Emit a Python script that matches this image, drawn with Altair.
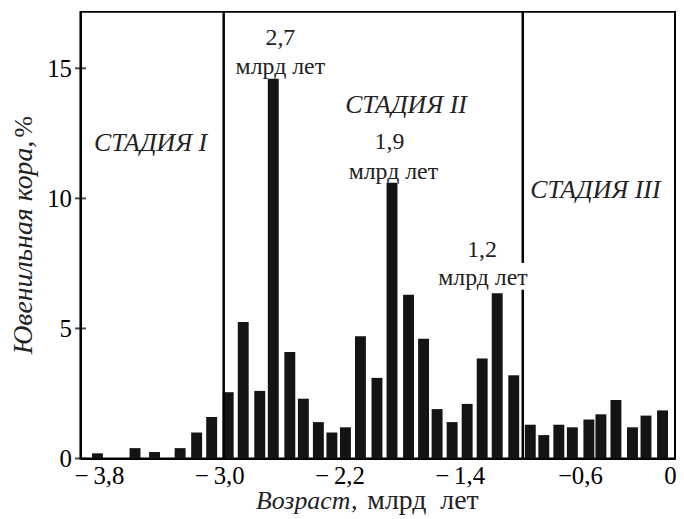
import altair as alt
import pandas as pd

# ---- data ----
age = [-3.81, -3.56, -3.43, -3.26, -3.15, -3.05, -2.94, -2.84, -2.73, -2.64,
       -2.53, -2.44, -2.34, -2.25, -2.16, -2.06, -1.95, -1.85, -1.74, -1.64,
       -1.55, -1.45, -1.35, -1.25, -1.15, -1.04, -0.93, -0.84, -0.74, -0.65,
       -0.54, -0.46, -0.36, -0.25, -0.16, -0.05]
share = [0.2, 0.4, 0.25, 0.4, 1.0, 1.6, 2.55, 5.25, 2.6, 14.6,
         4.1, 2.3, 1.4, 1.0, 1.2, 4.7, 3.1, 10.6, 6.3, 4.6,
         1.9, 1.4, 2.1, 3.85, 6.35, 3.2, 1.3, 0.9, 1.3, 1.2,
         1.5, 1.7, 2.25, 1.2, 1.65, 1.85]

x_ticks = [-3.8, -3.0, -2.2, -1.4, -0.6, 0.0]
x_tick_labels = ["\u2212\u20093,8", "\u2212\u20093,0", "\u2212\u20092,2", "\u2212\u20091,4", "\u22120,6", "0"]
y_ticks = [0, 5, 10, 15]

bound_x = [-2.97, -0.98, -0.98]
bound_y = [0.0, 0.0, 7.52]
bound_y2 = [17.17, 6.49, 17.17]

stage_names = ["СТАДИЯ I", "СТАДИЯ II", "СТАДИЯ III"]
stage_x = [-3.456, -1.757, -0.93]
stage_y = [11.83, 13.28, 10.03]

peak_labels = ["2,7", "1,9", "1,2"]
peak_x = [-2.593, -1.867, -1.251]
peak_y = [15.91, 11.90, 7.745]
unit_label = "млрд лет"
unit_x = [-2.593, -1.841, -1.245]
unit_y = [14.80, 10.76, 6.677]

x_title_italic = "Возраст,"
x_title_plain = "млрд\u00a0 лет"
y_title_italic = "Ювенильная кора,"
y_title_plain = "%"

X_DOMAIN = [-3.89, 0.0]
Y_DOMAIN = [0, 17.17]
FONT = "Liberation Serif"

bars_df = pd.DataFrame({"age": age, "share": share})
bounds_df = pd.DataFrame({"age": bound_x, "share": bound_y, "share2": bound_y2})
stage_df = pd.DataFrame({"age": stage_x, "share": stage_y, "name": stage_names})
peak_df = pd.DataFrame({"age": peak_x, "share": peak_y, "label": peak_labels})
unit_df = pd.DataFrame({"age": unit_x, "share": unit_y, "label": [unit_label] * 3})
ytick_df = pd.DataFrame({"share": y_ticks})

label_expr = ""
for v, lab in zip(x_ticks, x_tick_labels):
    label_expr += f"datum.value == {v} ? '{lab}' : "
label_expr += "''"

xs = alt.Scale(domain=X_DOMAIN, nice=False, zero=False)
ys = alt.Scale(domain=Y_DOMAIN, nice=False, zero=False)

X = alt.X("age:Q", scale=xs, title=None, axis=alt.Axis(
    values=x_ticks, labelExpr=label_expr, ticks=False, grid=False, title=None,
    labelFontSize=25, labelPadding=5,
    domainColor="black", domainWidth=2, labelColor="black",
    labelFont=FONT, labelFlush=False))
Y = alt.Y("share:Q", scale=ys, title=None, axis=alt.Axis(
    values=y_ticks, ticks=False, grid=False, title=None,
    labelFontSize=25, labelPadding=9,
    domainColor="black", domainWidth=2, labelColor="black",
    labelFont=FONT))

bars = alt.Chart(bars_df).mark_bar(size=11, color="#141414").encode(x=X, y=Y)

yticks = alt.Chart(ytick_df).mark_tick(orient="horizontal", size=11, thickness=2, color="black").encode(
    x=alt.value(0), y=Y)

rules = alt.Chart(bounds_df).mark_rule(color="black", strokeWidth=2.5).encode(
    x=X, y=Y, y2="share2:Q")

stages_c = alt.Chart(stage_df).transform_filter(
    alt.datum.name != "СТАДИЯ III"
).mark_text(font=FONT, fontSize=26, fontStyle="italic", align="center",
            baseline="alphabetic", color="#222").encode(x=X, y=Y, text="name:N")

stages_l = alt.Chart(stage_df).transform_filter(
    alt.datum.name == "СТАДИЯ III"
).mark_text(font=FONT, fontSize=26, fontStyle="italic", align="left",
            baseline="alphabetic", color="#222").encode(x=X, y=Y, text="name:N")

peaks = alt.Chart(peak_df).mark_text(font=FONT, fontSize=24, align="center",
                                     baseline="alphabetic", color="#222").encode(
    x=X, y=Y, text="label:N")

units = alt.Chart(unit_df).mark_text(font=FONT, fontSize=24, align="center",
                                     baseline="alphabetic", color="#222").encode(
    x=X, y=Y, text="label:N")

# axis titles: italic word + upright unit, as in the original
xt1 = alt.Chart(pd.DataFrame({"t": [x_title_italic]})).mark_text(
    font=FONT, fontSize=26, fontStyle="italic", align="right",
    baseline="alphabetic", color="#222").encode(
    x=alt.value(279), y=alt.value(501), text="t:N")
xt2 = alt.Chart(pd.DataFrame({"t": [x_title_plain]})).mark_text(
    font=FONT, fontSize=28, align="left", baseline="alphabetic", color="#222").encode(
    x=alt.value(289), y=alt.value(501), text="t:N")
yt1 = alt.Chart(pd.DataFrame({"t": [y_title_italic]})).mark_text(
    font=FONT, fontSize=28, fontStyle="italic", align="left", angle=270,
    baseline="alphabetic", color="#222").encode(
    x=alt.value(-49), y=alt.value(345), text="t:N")
yt2 = alt.Chart(pd.DataFrame({"t": [y_title_plain]})).mark_text(
    font=FONT, fontSize=26, align="right", angle=270,
    baseline="alphabetic", color="#222").encode(
    x=alt.value(-49), y=alt.value(105), text="t:N")

chart = alt.layer(bars, yticks, rules, stages_c, stages_l, peaks, units,
                  xt1, xt2, yt1, yt2).properties(
    width=599, height=450,
    autosize=alt.AutoSizeParams(type="none"),
    padding={"left": 73, "top": 2, "right": 1, "bottom": 57},
    background="white",
).configure_view(stroke="black", strokeWidth=2)

chart.save("out.html", embed_options={"renderer": "svg", "actions": False})
